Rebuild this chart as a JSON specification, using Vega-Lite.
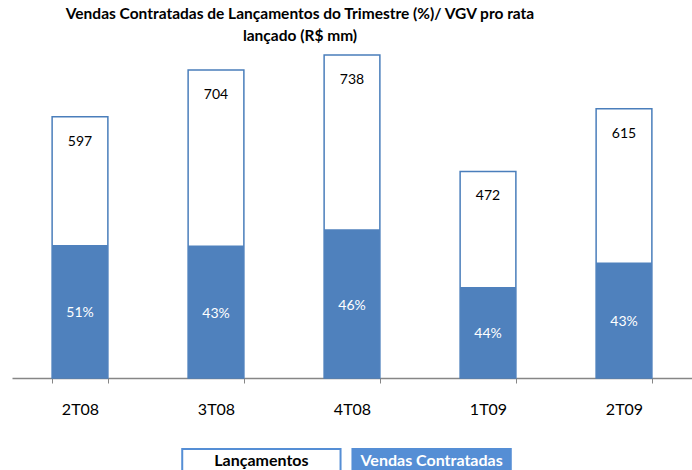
{
  "$schema": "https://vega.github.io/schema/vega-lite/v6.json",
  "padding": {"left": 12, "top": 6, "right": 0, "bottom": 0},
  "background": "white",
  "config": {"view": {"stroke": null}, "font": "Lato", "concat": {"spacing": 31}},
  "title": {
    "text": ["Vendas  Contratadas de  Lançamentos do Trimestre  (%)/ VGV pro rata", "lançado (R$ mm)"],
    "fontSize": 15.5, "fontWeight": "bold", "font": "Lato", "lineHeight": 22,
    "anchor": "middle", "dx": -52, "offset": 4, "color": "black"
  },
  "datasets": {
    "trim": [
      {"trimestre": "2T08", "lancamentos": 597, "vendas": 304, "pct": "51%"},
      {"trimestre": "3T08", "lancamentos": 704, "vendas": 303, "pct": "43%"},
      {"trimestre": "4T08", "lancamentos": 738, "vendas": 340, "pct": "46%"},
      {"trimestre": "1T09", "lancamentos": 472, "vendas": 208, "pct": "44%"},
      {"trimestre": "2T09", "lancamentos": 615, "vendas": 264, "pct": "43%"}
    ],
    "leg": [
      {"item": "Lançamentos"},
      {"item": "Vendas Contratadas"}
    ]
  },
  "vconcat": [
    {
      "width": 680,
      "height": 330,
      "data": {"name": "trim"},
      "encoding": {
        "x": {
          "field": "trimestre", "type": "nominal", "sort": null,
          "scale": {"paddingInner": 0.59, "paddingOuter": 0.295},
          "axis": {
            "title": null, "labelAngle": 0, "tickBand": "extent",
            "domainColor": "#868686", "tickColor": "#868686", "tickSize": 5, "domainWidth": 1.5,
            "labelFontSize": 16, "labelColor": "black", "labelPadding": 18, "labelFont": "Lato"
          }
        }
      },
      "layer": [
        {
          "mark": {"type": "bar", "fill": "white", "stroke": "#4a7ebb", "strokeWidth": 1.5},
          "encoding": {"y": {"field": "lancamentos", "type": "quantitative", "scale": {"domain": [0, 754], "nice": false}, "axis": null}}
        },
        {
          "mark": {"type": "bar", "fill": "#4f81bd"},
          "encoding": {"y": {"field": "vendas", "type": "quantitative", "scale": {"domain": [0, 754], "nice": false}, "axis": null}}
        },
        {
          "mark": {"type": "text", "baseline": "middle", "dy": 25, "fontSize": 14, "color": "black"},
          "encoding": {"y": {"field": "lancamentos", "type": "quantitative", "scale": {"domain": [0, 754], "nice": false}, "axis": null}, "text": {"field": "lancamentos"}}
        },
        {
          "mark": {"type": "text", "baseline": "middle", "dy": 2, "fontSize": 14, "color": "white"},
          "encoding": {"y": {"field": "vendas", "type": "quantitative", "scale": {"domain": [0, 1508], "nice": false}, "axis": null}, "text": {"field": "pct"}}
        }
      ],
      "resolve": {"scale": {"y": "independent"}}
    },
    {
      "width": 669,
      "height": 23,
      "data": {"name": "leg"},
      "encoding": {
        "x": {"field": "item", "type": "nominal", "sort": null, "scale": {"paddingInner": 0.07, "paddingOuter": 1.18}, "axis": null}
      },
      "layer": [
        {
          "mark": {"type": "bar", "stroke": "#558ed5", "strokeWidth": 2},
          "encoding": {
            "fill": {"field": "item", "type": "nominal", "scale": {"domain": ["Lançamentos", "Vendas Contratadas"], "range": ["white", "#558ed5"]}, "legend": null}
          }
        },
        {
          "mark": {"type": "text", "fontSize": 16, "fontWeight": "bold", "baseline": "middle"},
          "encoding": {
            "text": {"field": "item"},
            "color": {"condition": {"test": "datum.item == 'Lançamentos'", "value": "black"}, "value": "white"}
          }
        }
      ]
    }
  ]
}
